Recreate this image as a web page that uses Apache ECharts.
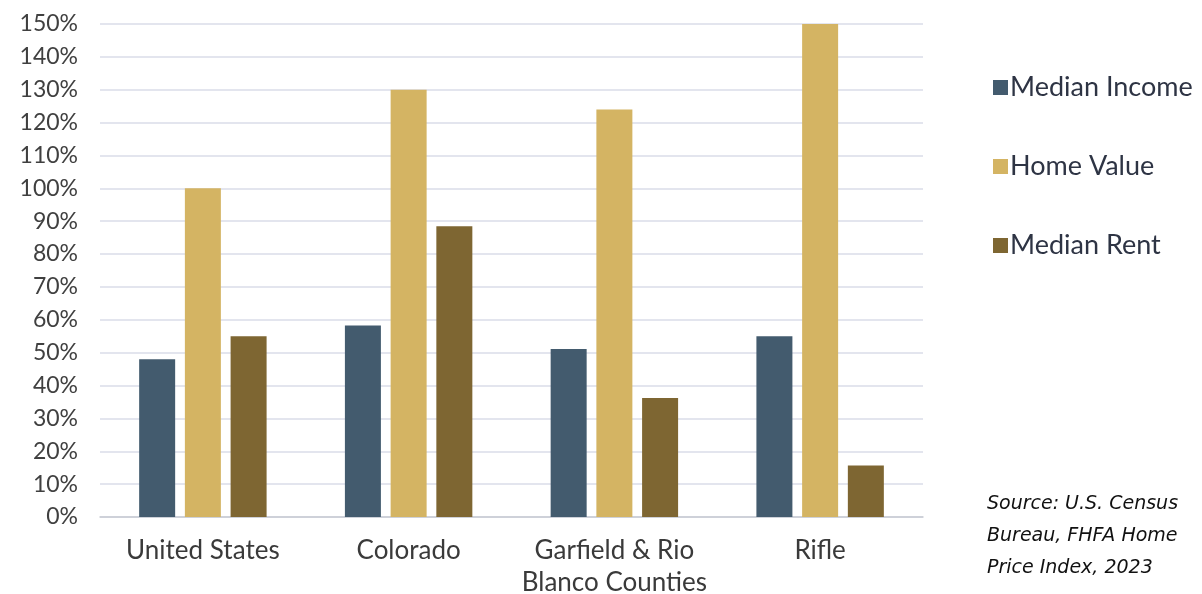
<!DOCTYPE html>
<html lang="en">
<head>
    <meta charset="UTF-8">
    <title>Income, Home Value and Rent by Region</title>
    <script src="https://cdn.jsdelivr.net/npm/echarts@6/dist/echarts.min.js"></script>
    <style>
        body {
            margin: 0;
            padding: 0;
            background-color: #ffffff;
            overflow: hidden;
        }
        #chart {
            width: 1202px;
            height: 594px;
        }
    </style>
</head>
<body>
<div id="chart"></div>

<script>
    // 数据
    const regions = ['United States', 'Colorado', 'Garfield & Rio\nBlanco Counties', 'Rifle'];
    const medianIncome = [48, 58.3, 51.1, 55];
    const homeValue = [100, 130, 124, 150];
    const medianRent = [55, 88.5, 36.2, 15.7];

    const colors = ['#435b6e', '#d4b463', '#7e6632'];

    const chart = echarts.init(document.getElementById('chart'));

    function barSeries(name, data, color) {
        return {
            name: name,
            type: 'bar',
            data: data,
            barWidth: 36,
            barGap: '27%',
            itemStyle: { color: color }
        };
    }

    chart.setOption({
        animation: false,
        textStyle: { fontFamily: 'Lato' },
        grid: { left: 100, right: 279, top: 24, bottom: 77, outerBoundsMode: 'none', containLabel: false },
        legend: {
            orient: 'vertical',
            left: 988,
            top: 69,
            itemGap: 52,
            itemWidth: 15,
            itemHeight: 15,
            icon: 'rect',
            textStyle: { fontSize: 27, color: '#2e3444', fontFamily: 'Lato', padding: [0, 0, 0, -3] },
            data: ['Median Income', 'Home Value', 'Median Rent']
        },
        graphic: [{
            type: 'text',
            left: 987,
            top: 488,
            style: {
                text: 'Source: U.S. Census\nBureau, FHFA Home\nPrice Index, 2023',
                font: 'oblique 19px "DejaVu Sans"',
                lineHeight: 32,
                fill: '#111111'
            }
        }],
        xAxis: {
            type: 'category',
            data: regions,
            axisLine: { lineStyle: { color: '#c8cad2', width: 1.5 } },
            axisTick: { show: false },
            axisLabel: {
                interval: 0,
                fontSize: 26,
                color: '#3a3a3a',
                margin: 18,
                lineHeight: 32
            }
        },
        yAxis: {
            type: 'value',
            min: 0,
            max: 150,
            interval: 10,
            axisLabel: {
                formatter: '{value}%',
                fontSize: 23,
                color: '#404040',
                margin: 22
            },
            splitLine: { lineStyle: { color: '#dadde8', width: 1.5 } }
        },
        series: [
            barSeries('Median Income', medianIncome, colors[0]),
            barSeries('Home Value', homeValue, colors[1]),
            barSeries('Median Rent', medianRent, colors[2])
        ]
    });
</script>
</body>
</html>
